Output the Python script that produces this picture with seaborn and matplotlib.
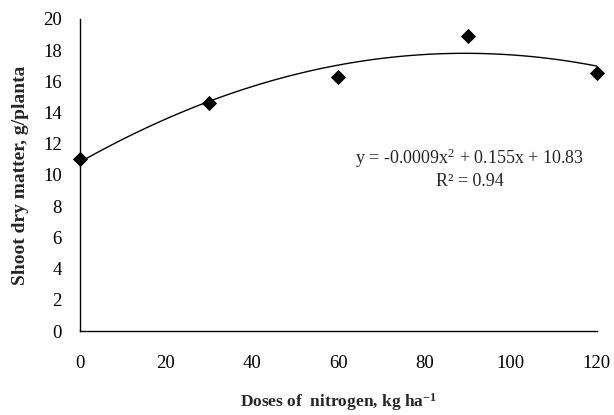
import numpy as np
import pandas as pd
import matplotlib
matplotlib.use("Agg")
import matplotlib.pyplot as plt
import seaborn as sns

doses = [0, 30, 60, 90, 120]
dry_matter = [11.0, 14.6, 16.3, 18.9, 16.55]
x_ticks = [0, 20, 40, 60, 80, 100, 120]
y_ticks = [0, 2, 4, 6, 8, 10, 12, 14, 16, 18, 20]
equation = "y = -0.0009x$^{2}$ + 0.155x + 10.83"
r2_text = "R² = 0.94"

sns.set_theme(style="white")
plt.rcParams['font.family'] = ['Liberation Serif', 'DejaVu Serif']
plt.rcParams['mathtext.fontset'] = 'custom'
plt.rcParams['mathtext.rm'] = 'Liberation Serif'
plt.rcParams['mathtext.it'] = 'Liberation Serif:italic'
plt.rcParams['mathtext.bf'] = 'Liberation Serif:bold'

fig = plt.figure(figsize=(6.14, 4.15), dpi=100)
ax = fig.add_axes([0.130, 0.2024, 0.842, 0.752])

df = pd.DataFrame({"dose": doses, "dm": dry_matter})
sns.regplot(data=df, x="dose", y="dm", ax=ax, order=2, ci=None, marker="D",
            color="black",
            scatter_kws={"s": 60, "clip_on": False, "zorder": 5, "linewidths": 0,
                         "alpha": 1.0, "color": "black"},
            line_kws={"color": "black", "linewidth": 1.0})

ax.set_xlim(0, 120)
ax.set_ylim(0, 20)
ax.set_xticks(x_ticks)
ax.set_yticks(y_ticks)
ax.tick_params(axis="both", labelsize=13.5, colors="black", width=1)
ax.tick_params(axis="x", direction="in", length=5, pad=17)
ax.tick_params(axis="y", direction="out", length=6, pad=7)
for s in ["top", "right"]:
    ax.spines[s].set_visible(False)
for s in ["left", "bottom"]:
    ax.spines[s].set_color("black")
    ax.spines[s].set_linewidth(1.0)

ax.set_xlabel("Doses of  nitrogen, kg ha$^{\\mathbf{-1}}$", fontsize=12.5,
              fontweight="bold", labelpad=14)
ax.set_ylabel("Shoot dry matter, g/planta", fontsize=14, fontweight="bold", labelpad=10)

ax.text(90.5, 11.09, equation, ha="center", va="center", fontsize=13)
ax.text(90.5, 9.55, r2_text, ha="center", va="center", fontsize=13)

fig.savefig("out.png", dpi=100)
